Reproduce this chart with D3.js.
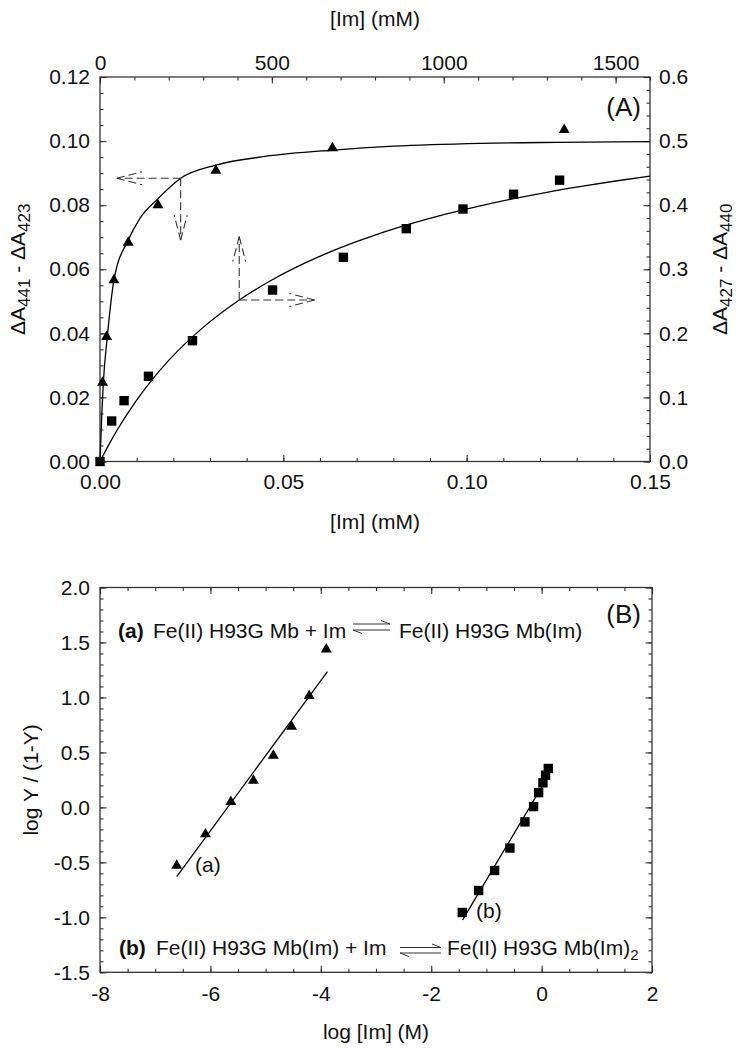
<!DOCTYPE html>
<html><head><meta charset="utf-8">
<script src="https://cdnjs.cloudflare.com/ajax/libs/d3/7.8.5/d3.min.js"></script>
<style>
body{margin:0;background:#fff;}
svg{display:block;font-family:"Liberation Sans",Arial,sans-serif;}
</style></head><body>
<svg id="chart" width="741" height="1050"></svg>
<script>
// ---------- Panel A data ----------
// triangles: bottom axis [Im] (mM) 0-0.15, left axis dA441-dA423
const triX = [0.0007, 0.0018, 0.0038, 0.0077, 0.0158, 0.0316, 0.0634, 0.1266];
const triY = [0.0246, 0.0389, 0.0566, 0.0683, 0.0800, 0.0908, 0.0978, 0.1035];
// squares: top axis [Im] (mM) 0-1600, right axis dA427-dA440
const sqX = [0, 34, 70, 141, 269, 502, 708, 891, 1056, 1203, 1337];
const sqY = [0, 0.0632, 0.0949, 0.133, 0.1885, 0.2676, 0.3186, 0.3633, 0.394, 0.417, 0.439];
// fitted curves
const triFitX = [0, 0.0005, 0.0009, 0.002, 0.0038, 0.0077, 0.0109, 0.0158, 0.022, 0.0316, 0.045, 0.0637, 0.08, 0.1038, 0.125, 0.15];
const triFitY = [0, 0.0150, 0.0244, 0.0390, 0.0566, 0.0691, 0.0759, 0.0820, 0.0884, 0.0925, 0.0952, 0.0972, 0.0984, 0.0993, 0.0996, 0.0998];
const sqFitX = [0, 25, 50, 100, 150, 200, 300, 400, 500, 600, 700, 800, 900, 1000, 1100, 1200, 1300, 1400, 1500, 1600];
const sqFitY = [0, 0.0256, 0.0491, 0.0908, 0.1267, 0.1578, 0.2093, 0.2501, 0.2832, 0.3106, 0.3337, 0.3533, 0.3703, 0.3852, 0.3982, 0.4098, 0.4201, 0.4293, 0.4377, 0.4453];
// guide arrows
const triArrow = {x: 0.022, y: 0.0884, leftTo: 0.0046, downTo: 0.0691};
const sqArrow = {x: 405, y: 0.252, upTo: 0.3508, rightTo: 624};
// ticks
const aLeftTicks = [0, 0.02, 0.04, 0.06, 0.08, 0.10, 0.12];
const aRightTicks = [0, 0.1, 0.2, 0.3, 0.4, 0.5, 0.6];
const aBottomTicks = [0, 0.05, 0.10, 0.15];
const aTopTicks = [0, 500, 1000, 1500];

// ---------- Panel B data ----------
const hillTriX = [-6.61, -6.09, -5.63, -5.22, -4.86, -4.53, -4.21, -3.90];
const hillTriY = [-0.529, -0.244, 0.050, 0.244, 0.471, 0.735, 1.014, 1.438];
const hillSqX = [-1.437, -1.141, -0.851, -0.574, -0.302, -0.145, -0.054, 0.024, 0.072, 0.121];
const hillSqY = [-0.956, -0.756, -0.574, -0.370, -0.132, 0.007, 0.134, 0.223, 0.293, 0.354];
const lineAX = [-6.61, -3.88];
const lineAY = [-0.629, 1.235];
const lineBX = [-1.43, 0.05];
const lineBY = [-1.023, 0.226];
const bYTicks = [-1.5, -1.0, -0.5, 0.0, 0.5, 1.0, 1.5, 2.0];
const bXTicks = [-8, -6, -4, -2, 0, 2];

const svg = d3.select("#chart");
const FONT = '"Liberation Sans", Arial, sans-serif';
const AX = "#333";

function styleAxis(a) {
  a.select(".domain").remove();
  a.attr("font-size", 21).attr("font-family", FONT);
  a.selectAll("line").attr("stroke", AX).attr("stroke-width", 1.1);
  a.selectAll("text").attr("fill", "#111");
  return a;
}
function axisPair(gen, scale, major, minor, fmt, transform, pad) {
  styleAxis(svg.append("g").attr("transform", transform)
    .call(gen(scale).tickValues(minor).tickSize(-3.5).tickFormat(() => "")));
  styleAxis(svg.append("g").attr("transform", transform)
    .call(gen(scale).tickValues(major).tickSize(-6.5).tickPadding(pad).tickFormat(fmt)));
}

// ================= Panel A =================
const A = {l: 100, r: 650, t: 77, b: 461.5};
const xA = d3.scaleLinear([0, 0.15], [A.l, A.r]);
const xAt = d3.scaleLinear([0, 1600], [A.l, A.r]);
const yA = d3.scaleLinear([0, 0.12], [A.b, A.t]);
const yAr = d3.scaleLinear([0, 0.6], [A.b, A.t]);

axisPair(d3.axisLeft, yA, aLeftTicks, d3.range(0, 0.1201, 0.005), d => d.toFixed(2), `translate(${A.l},0)`, 10);
axisPair(d3.axisRight, yAr, aRightTicks, d3.range(0, 0.601, 0.02), d => d.toFixed(1), `translate(${A.r},0)`, 9);
axisPair(d3.axisBottom, xA, aBottomTicks, d3.range(0, 0.1501, 0.01), d => d.toFixed(2), `translate(0,${A.b})`, 13);
axisPair(d3.axisTop, xAt, aTopTicks, d3.range(0, 1601, 100), d => String(d), `translate(0,${A.t})`, 7);

svg.append("rect").attr("x", A.l).attr("y", A.t).attr("width", A.r - A.l).attr("height", A.b - A.t)
  .attr("fill", "none").attr("stroke", AX).attr("stroke-width", 1.3);

// curves
const triFit = triFitX.map((x, i) => [xA(x), yA(triFitY[i])]);
const sqFit = sqFitX.map((x, i) => [xAt(x), yAr(sqFitY[i])]);
svg.append("path").attr("d", d3.line().curve(d3.curveMonotoneX)(triFit))
  .attr("fill", "none").attr("stroke", "#000").attr("stroke-width", 1.3);
svg.append("path").attr("d", d3.line().curve(d3.curveMonotoneX)(sqFit))
  .attr("fill", "none").attr("stroke", "#000").attr("stroke-width", 1.3);

// dashed arrows
function dashedArrow(x0, y0, x1, y1) {
  const g = svg.append("g").attr("stroke", "#333").attr("stroke-width", 1.1)
    .attr("stroke-dasharray", "8,4").attr("fill", "none");
  g.append("line").attr("x1", x0).attr("y1", y0).attr("x2", x1).attr("y2", y1);
  const dx = x1 - x0, dy = y1 - y0, len = Math.hypot(dx, dy);
  const ux = dx / len, uy = dy / len, L = 25, W = 6.5;
  const bx = x1 - ux * L, by = y1 - uy * L;
  g.append("line").attr("x1", x1).attr("y1", y1).attr("x2", bx - uy * W).attr("y2", by + ux * W);
  g.append("line").attr("x1", x1).attr("y1", y1).attr("x2", bx + uy * W).attr("y2", by - ux * W);
}
dashedArrow(xA(triArrow.x), yA(triArrow.y), xA(triArrow.leftTo), yA(triArrow.y));
dashedArrow(xA(triArrow.x), yA(triArrow.y), xA(triArrow.x), yA(triArrow.downTo));
dashedArrow(xAt(sqArrow.x), yAr(sqArrow.y), xAt(sqArrow.x), yAr(sqArrow.upTo));
dashedArrow(xAt(sqArrow.x), yAr(sqArrow.y), xAt(sqArrow.rightTo), yAr(sqArrow.y));

// markers
const triSym = d3.symbol().type(d3.symbolTriangle).size(52);
const sqSym = d3.symbol().type(d3.symbolSquare).size(88);
svg.append("g").selectAll("path").data(triX).join("path")
  .attr("d", triSym).attr("transform", (d, i) => `translate(${xA(d)},${yA(triY[i])})`).attr("fill", "#000");
svg.append("g").selectAll("path").data(sqX).join("path")
  .attr("d", sqSym).attr("transform", (d, i) => `translate(${xAt(d)},${yAr(sqY[i])})`).attr("fill", "#000");

// labels
function txt(x, y, s, size, anchor) {
  return svg.append("text").attr("x", x).attr("y", y).attr("font-size", size || 21)
    .attr("text-anchor", anchor || "start").attr("fill", "#111").text(s);
}
txt((A.l + A.r) / 2, 26, "[Im] (mM)", 21, "middle");
txt((A.l + A.r) / 2, 529, "[Im] (mM)", 21, "middle");
txt(641, 116, "(A)", 26, "end");

function subLabel(x, y, parts) {
  const t = svg.append("text").attr("transform", `translate(${x},${y}) rotate(-90)`)
    .attr("text-anchor", "middle").attr("font-size", 21).attr("fill", "#111");
  parts.forEach(p => {
    const ts = t.append("tspan").text(p[0]);
    if (p[1]) ts.attr("font-size", 17).attr("dy", 5);
    else if (p[2]) ts.attr("dy", -5);
  });
}
subLabel(25, (A.t + A.b) / 2, [["ΔA"], ["441", 1], [" - ΔA", 0, 1], ["423", 1]]);
subLabel(727, (A.t + A.b) / 2, [["ΔA"], ["427", 1], [" - ΔA", 0, 1], ["440", 1]]);

// ================= Panel B =================
const B = {l: 100, r: 652, t: 587.5, b: 972.3};
const xB = d3.scaleLinear([-8, 2], [B.l, B.r]);
const yB = d3.scaleLinear([-1.5, 2.0], [B.b, B.t]);

axisPair(d3.axisLeft, yB, bYTicks, d3.range(-1.5, 2.001, 0.1), d => d.toFixed(1), `translate(${B.l},0)`, 10);
axisPair(d3.axisRight, yB, [], d3.range(-1.5, 2.001, 0.1), d => "", `translate(${B.r},0)`, 9);
styleAxis(svg.append("g").attr("transform", `translate(${B.r},0)`).call(d3.axisRight(yB).tickValues(bYTicks).tickSize(-6.5).tickFormat(() => "")));
axisPair(d3.axisBottom, xB, bXTicks, d3.range(-8, 2.001, 0.5), d => String(d), `translate(0,${B.b})`, 14);
axisPair(d3.axisTop, xB, [], d3.range(-8, 2.001, 0.5), d => "", `translate(0,${B.t})`, 7);
styleAxis(svg.append("g").attr("transform", `translate(0,${B.t})`).call(d3.axisTop(xB).tickValues(bXTicks).tickSize(-6.5).tickFormat(() => "")));

svg.append("rect").attr("x", B.l).attr("y", B.t).attr("width", B.r - B.l).attr("height", B.b - B.t)
  .attr("fill", "none").attr("stroke", AX).attr("stroke-width", 1.3);

svg.append("path").attr("d", d3.line()(lineAX.map((x, i) => [xB(x), yB(lineAY[i])])))
  .attr("stroke", "#000").attr("stroke-width", 1.3).attr("fill", "none");
svg.append("path").attr("d", d3.line()(lineBX.map((x, i) => [xB(x), yB(lineBY[i])])))
  .attr("stroke", "#000").attr("stroke-width", 1.3).attr("fill", "none");

svg.append("g").selectAll("path").data(hillTriX).join("path")
  .attr("d", triSym).attr("transform", (d, i) => `translate(${xB(d)},${yB(hillTriY[i])})`).attr("fill", "#000");
svg.append("g").selectAll("path").data(hillSqX).join("path")
  .attr("d", sqSym).attr("transform", (d, i) => `translate(${xB(d)},${yB(hillSqY[i])})`).attr("fill", "#000");

txt(195, 872, "(a)");
txt(476, 918, "(b)");
txt(641, 623, "(B)", 26, "end");
txt((B.l + B.r) / 2, 1039, "log [Im] (M)", 21, "middle");
svg.append("text").attr("transform", `translate(38,${(B.t + B.b) / 2}) rotate(-90)`)
  .attr("text-anchor", "middle").attr("font-size", 21).attr("fill", "#111").text("log Y / (1-Y)");

// equations
function harpoons(x1, x2, yT, yBot) {
  const g = svg.append("g").attr("stroke", "#333").attr("stroke-width", 1).attr("fill", "none");
  g.append("line").attr("x1", x1).attr("y1", yT).attr("x2", x2).attr("y2", yT);
  g.append("line").attr("x1", x2).attr("y1", yT).attr("x2", x2 - 9).attr("y2", yT - 3.5);
  g.append("line").attr("x1", x1).attr("y1", yBot).attr("x2", x2).attr("y2", yBot);
  g.append("line").attr("x1", x1).attr("y1", yBot).attr("x2", x1 + 9).attr("y2", yBot + 3.5);
}
txt(118, 638, "(a)").attr("font-weight", "bold");
txt(153, 638, "Fe(II) H93G Mb + Im");
harpoons(353, 390, 624, 630);
txt(399, 638, "Fe(II) H93G Mb(Im)");

txt(119, 955, "(b)").attr("font-weight", "bold");
txt(156, 955, "Fe(II) H93G Mb(Im) + Im");
harpoons(400, 441, 947.5, 953);
const t2 = txt(447, 955, "Fe(II) H93G Mb(Im)");
t2.append("tspan").attr("font-size", 15).attr("dy", 5).text("2");
</script>
</body></html>
